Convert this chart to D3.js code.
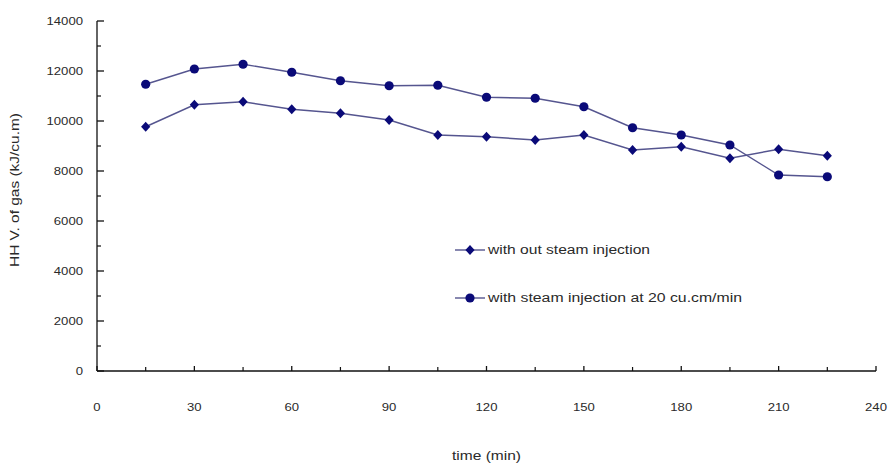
<!DOCTYPE html>
<html>
<head>
<meta charset="utf-8">
<script src="https://cdn.jsdelivr.net/npm/d3@7"></script>
<style>
  html, body { margin: 0; padding: 0; background: #fff; }
  svg text { font-family: "Liberation Sans", Arial, sans-serif; fill: #2a2a2a; }
</style>
</head>
<body>
<svg id="chart" width="891" height="463"></svg>
<script>
// time (min)
const times = [15, 30, 45, 60, 75, 90, 105, 120, 135, 150, 165, 180, 195, 210, 225];
// HHV without steam injection (diamonds)
const withoutSteam = [9770, 10650, 10770, 10470, 10310, 10040, 9440, 9370, 9240, 9440, 8840, 8970, 8510, 8870, 8610];
// HHV with steam injection at 20 cu.cm/min (circles)
const withSteam = [11470, 12080, 12270, 11950, 11610, 11410, 11430, 10950, 10910, 10570, 9730, 9440, 9040, 7840, 7770];

const xTicks = [0, 30, 60, 90, 120, 150, 180, 210, 240];
const xMinorTicks = [15, 45, 75, 105, 135, 165, 195, 225];
const yTicks = [0, 2000, 4000, 6000, 8000, 10000, 12000, 14000];
const yMinorTicks = [1000, 3000, 5000, 7000, 9000, 11000, 13000];

const seriesNames = ['with out steam injection', 'with steam injection at 20 cu.cm/min'];
const legendWidths = [162, 254];   // the source text is stretched sideways

const svg = d3.select('#chart');
const M = { left: 97, right: 876, top: 21, bottom: 371 };

const x = d3.scaleLinear().domain([0, 240]).range([M.left, M.right]);
const y = d3.scaleLinear().domain([0, 14000]).range([M.bottom, M.top]);

const markColor = '#0a0a78';
const lineColor = '#55558f';
const DIGIT_W = 7.3;

/* ---- axes ------------------------------------------------------------- */
const gx = svg.append('g').attr('transform', `translate(0,${M.bottom})`);
gx.append('line').attr('x1', M.left).attr('x2', M.right).attr('stroke', '#111').attr('stroke-width', 1.3);
gx.selectAll('line.maj').data(xTicks).enter().append('line')
  .attr('class', 'maj')
  .attr('x1', d => x(d)).attr('x2', d => x(d)).attr('y1', 0).attr('y2', -5)
  .attr('stroke', '#111').attr('stroke-width', 1.3);
gx.selectAll('line.min').data(xMinorTicks).enter().append('line')
  .attr('class', 'min')
  .attr('x1', d => x(d)).attr('x2', d => x(d)).attr('y1', 0).attr('y2', -4)
  .attr('stroke', '#111').attr('stroke-width', 1.2);
gx.selectAll('text').data(xTicks).enter().append('text')
  .attr('x', d => x(d)).attr('y', 40)
  .attr('text-anchor', 'middle')
  .attr('font-size', 11)
  .attr('textLength', d => String(d).length * DIGIT_W)
  .attr('lengthAdjust', 'spacingAndGlyphs')
  .text(d => d);

const gy = svg.append('g').attr('transform', `translate(${M.left},0)`);
gy.append('line').attr('y1', M.top).attr('y2', M.bottom).attr('stroke', '#111').attr('stroke-width', 1.3);
gy.selectAll('line.maj').data(yTicks).enter().append('line')
  .attr('class', 'maj')
  .attr('y1', d => y(d)).attr('y2', d => y(d)).attr('x1', 0).attr('x2', 7)
  .attr('stroke', '#111').attr('stroke-width', 1.3);
gy.selectAll('line.min').data(yMinorTicks).enter().append('line')
  .attr('class', 'min')
  .attr('y1', d => y(d)).attr('y2', d => y(d)).attr('x1', 0).attr('x2', 4)
  .attr('stroke', '#111').attr('stroke-width', 1.2);
gy.selectAll('text').data(yTicks).enter().append('text')
  .attr('x', -14).attr('y', d => y(d)).attr('dy', '0.35em')
  .attr('text-anchor', 'end')
  .attr('font-size', 11)
  .attr('textLength', d => String(d).length * DIGIT_W)
  .attr('lengthAdjust', 'spacingAndGlyphs')
  .text(d => d);

svg.append('text')
  .attr('transform', 'translate(19,190) rotate(-90)')
  .attr('text-anchor', 'middle')
  .attr('font-size', 12)
  .attr('textLength', 154)
  .attr('lengthAdjust', 'spacingAndGlyphs')
  .text('HH V. of gas (kJ/cu.m)');

svg.append('text')
  .attr('x', (M.left + M.right) / 2).attr('y', 460)
  .attr('text-anchor', 'middle')
  .attr('font-size', 12)
  .attr('textLength', 69)
  .attr('lengthAdjust', 'spacingAndGlyphs')
  .text('time (min)');

/* ---- series ----------------------------------------------------------- */
const line = d3.line().x(d => x(d[0])).y(d => y(d[1]));
const wideDiamond = {
  draw(ctx) {
    ctx.moveTo(0, -5); ctx.lineTo(4.6, 0); ctx.lineTo(0, 5); ctx.lineTo(-4.6, 0); ctx.closePath();
  }
};
const diamond = d3.symbol().type(wideDiamond);

const s1 = times.map((t, i) => [t, withoutSteam[i]]);
const s2 = times.map((t, i) => [t, withSteam[i]]);

[s1, s2].forEach(s => {
  svg.append('path').datum(s).attr('d', line)
    .attr('fill', 'none').attr('stroke', lineColor).attr('stroke-width', 1.4);
});

svg.append('g').selectAll('path').data(s1).enter().append('path')
  .attr('transform', d => `translate(${x(d[0])},${y(d[1])})`)
  .attr('d', diamond).attr('fill', markColor);

svg.append('g').selectAll('circle').data(s2).enter().append('circle')
  .attr('cx', d => x(d[0])).attr('cy', d => y(d[1])).attr('r', 4.6)
  .attr('fill', markColor);

/* ---- legend ----------------------------------------------------------- */
const legend = svg.append('g');
const legY = [250, 298];
seriesNames.forEach((name, i) => {
  const g = legend.append('g').attr('transform', `translate(455,${legY[i]})`);
  g.append('line').attr('x1', 0).attr('x2', 30).attr('stroke', lineColor).attr('stroke-width', 1.4);
  if (i === 0) g.append('path').attr('transform', 'translate(15,0)').attr('d', diamond).attr('fill', markColor);
  else g.append('circle').attr('cx', 15).attr('r', 4.6).attr('fill', markColor);
  g.append('text').attr('x', 33).attr('dy', '0.35em').attr('font-size', 12)
    .attr('textLength', legendWidths[i]).attr('lengthAdjust', 'spacingAndGlyphs')
    .text(name);
});
</script>
</body>
</html>
